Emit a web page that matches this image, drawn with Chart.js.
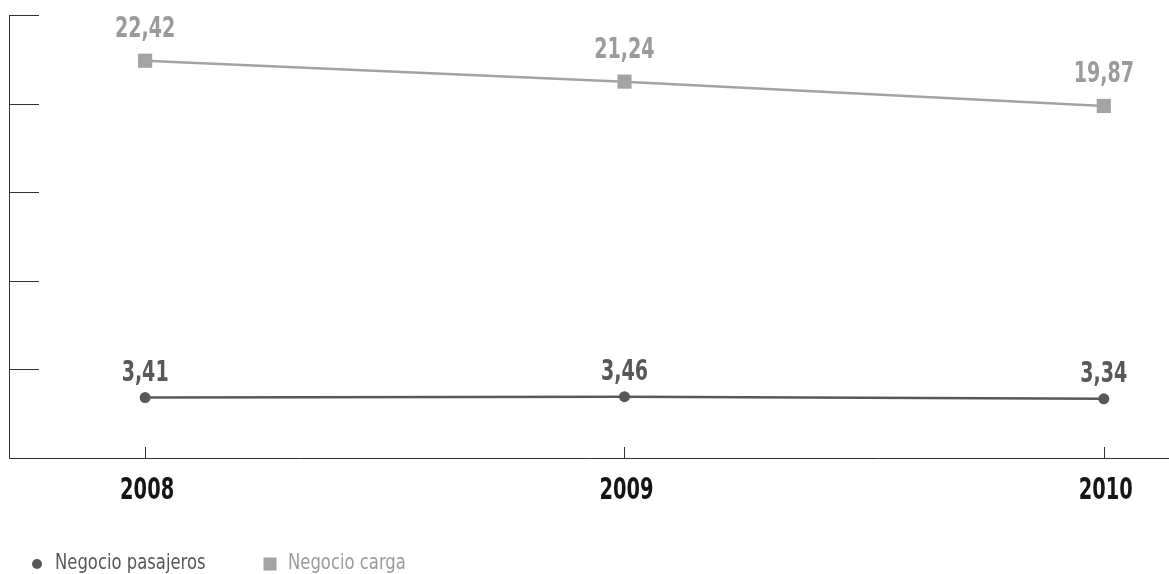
<!DOCTYPE html>
<html>
<head>
<meta charset="utf-8">
<script src="https://cdn.jsdelivr.net/npm/chart.js@4"></script>
<style>
html,body{margin:0;padding:0;background:#fff;overflow:hidden;}
#wrap{width:1169px;height:574px;position:relative;}
</style>
</head>
<body>
<div id="wrap"><canvas id="c"></canvas></div>
<script>
const years = [2008, 2009, 2010];
const pasajeros = [3.41, 3.46, 3.34];
const carga = [22.42, 21.24, 19.87];
const seriesNames = ['Negocio pasajeros', 'Negocio carga'];
const yTicks = [0, 5, 10, 15, 20, 25];

const DARK = '#58585a';
const GRAY = '#a3a3a3';
const FONT = '"DejaVu Sans Condensed", "Liberation Sans Narrow", sans-serif';

function fmt(v){ return v.toFixed(2).replace('.', ','); }

// draw horizontally condensed text
function condText(ctx, text, x, y, sx, align){
  ctx.save();
  ctx.translate(x, y);
  ctx.scale(sx, 1);
  ctx.textAlign = align;
  ctx.fillText(text, 0, 0);
  ctx.restore();
}

const extras = {
  id: 'extras',
  afterDraw(chart){
    const ctx = chart.ctx;
    const xs = chart.scales.x, ys = chart.scales.y;
    const ca = chart.chartArea;
    ctx.save();
    ctx.strokeStyle = '#333';
    ctx.lineWidth = 1;
    // y ticks (inward)
    yTicks.forEach(v => {
      if (v === 0) return;
      const y = Math.round(ys.getPixelForValue(v)) + 0.5;
      ctx.beginPath(); ctx.moveTo(ca.left, y); ctx.lineTo(ca.left + 30, y); ctx.stroke();
    });
    // x ticks (inward) and labels
    ctx.textBaseline = 'middle';
    ctx.font = 'bold 30px ' + FONT;
    ctx.fillStyle = '#151515';
    xs.ticks.forEach(t => {
      const x = Math.round(xs.getPixelForValue(t.value)) + 0.5;
      ctx.beginPath(); ctx.moveTo(x, ca.bottom); ctx.lineTo(x, ca.bottom - 11); ctx.stroke();
      condText(ctx, String(t.value), xs.getPixelForValue(t.value) + 2, ca.bottom + 33, 0.72, 'center');
    });
    // data labels
    ctx.font = 'bold 29px ' + FONT;
    const offs = [24, 31];
    chart.data.datasets.forEach((ds, i) => {
      const meta = chart.getDatasetMeta(i);
      ctx.fillStyle = ds.labelColor;
      meta.data.forEach((pt, j) => {
        condText(ctx, fmt(ds.data[j].y), pt.x, pt.y - offs[i], 0.73, 'center');
      });
    });
    // legend
    ctx.font = '21px ' + FONT;
    let lx = 37;
    const ly = 564;
    chart.data.datasets.forEach((ds, i) => {
      ctx.fillStyle = ds.borderColor;
      if (ds.pointStyle === 'circle') {
        ctx.beginPath(); ctx.arc(lx, ly, 5, 0, Math.PI * 2); ctx.fill();
      } else {
        ctx.fillRect(lx - 6.5, ly - 6.5, 13, 13);
      }
      ctx.fillStyle = ds.labelColor;
      condText(ctx, ds.label, lx + 18, ly, 0.87, 'left');
      lx += 233;
    });
    ctx.restore();
  }
};

new Chart(document.getElementById('c'), {
  type: 'line',
  data: {
    datasets: [
      {
        label: seriesNames[0],
        data: years.map((x, i) => ({x, y: pasajeros[i]})),
        borderColor: DARK, backgroundColor: DARK, labelColor: DARK,
        borderWidth: 2.5, pointStyle: 'circle', pointRadius: 5.5,
        pointBorderWidth: 0, tension: 0
      },
      {
        label: seriesNames[1],
        data: years.map((x, i) => ({x, y: carga[i]})),
        borderColor: GRAY, backgroundColor: GRAY, labelColor: '#9b9b9b',
        borderWidth: 2.5, pointStyle: 'rect', pointRadius: 10,
        pointBorderWidth: 0, tension: 0
      }
    ]
  },
  options: {
    responsive: true,
    maintainAspectRatio: false,
    animation: false,
    layout: { autoPadding: false, padding: { left: 9, right: 0, top: 15, bottom: 0 } },
    plugins: { legend: { display: false }, tooltip: { enabled: false } },
    scales: {
      x: {
        type: 'linear',
        min: 2007.716,
        max: 2010.136,
        afterBuildTicks: s => { s.ticks = years.map(v => ({value: v})); },
        afterFit: s => { s.height = 116; s.paddingLeft = 0; s.paddingRight = 0; },
        grid: { display: false, drawTicks: false },
        border: { display: true, color: '#333', width: 1 },
        ticks: { display: false }
      },
      y: {
        min: 0, max: 25,
        afterBuildTicks: s => { s.ticks = yTicks.map(v => ({value: v})); },
        afterFit: s => { s.width = 0; s.paddingTop = 0; s.paddingBottom = 0; },
        grid: { display: false, drawTicks: false },
        border: { display: true, color: '#333', width: 1 },
        ticks: { display: false }
      }
    }
  },
  plugins: [extras]
});
</script>
</body>
</html>
